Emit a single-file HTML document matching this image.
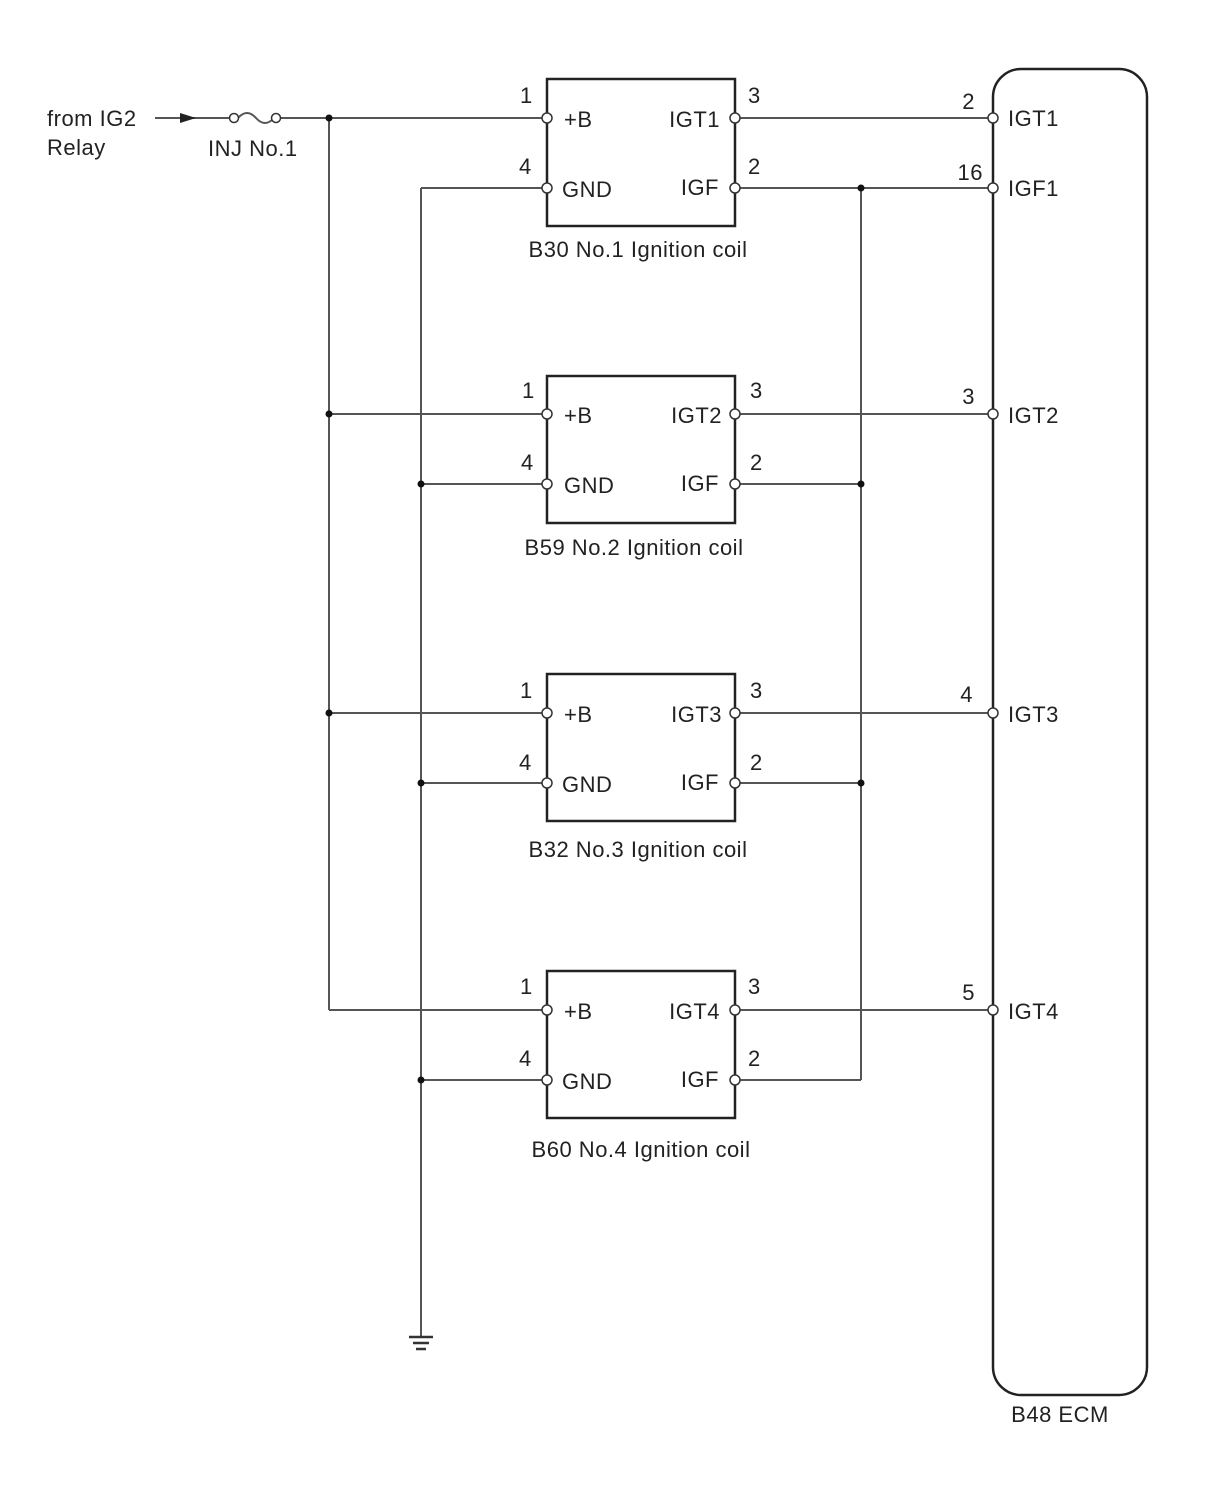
<!DOCTYPE html>
<html><head><meta charset="utf-8"><style>
html,body{margin:0;padding:0;background:#fff;}
svg{display:block;}
text{font-family:"Liberation Sans",Arial,sans-serif;font-size:22px;letter-spacing:0.5px;fill:#222;}
</style></head><body>
<svg width="1210" height="1498" viewBox="0 0 1210 1498" xmlns="http://www.w3.org/2000/svg">
<g stroke="#555" stroke-width="2" fill="none">
  <line x1="155" y1="118" x2="230" y2="118"/>
  <path d="M238 118 q9 -10 18 0 q9 10 18 0" />
  <line x1="280" y1="118" x2="543" y2="118"/>
  <line x1="329" y1="118" x2="329" y2="1010"/>
  <line x1="329" y1="414" x2="543" y2="414"/>
  <line x1="329" y1="713" x2="543" y2="713"/>
  <line x1="329" y1="1010" x2="543" y2="1010"/>
  <line x1="421" y1="188" x2="421" y2="1337"/>
  <line x1="421" y1="188" x2="543" y2="188"/>
  <line x1="421" y1="484" x2="543" y2="484"/>
  <line x1="421" y1="783" x2="543" y2="783"/>
  <line x1="421" y1="1080" x2="543" y2="1080"/>
  <line x1="861" y1="188" x2="861" y2="1080"/>
  <line x1="739" y1="188" x2="989" y2="188"/>
  <line x1="739" y1="484" x2="861" y2="484"/>
  <line x1="739" y1="783" x2="861" y2="783"/>
  <line x1="739" y1="1080" x2="861" y2="1080"/>
  <line x1="739" y1="118" x2="989" y2="118"/>
  <line x1="739" y1="414" x2="989" y2="414"/>
  <line x1="739" y1="713" x2="989" y2="713"/>
  <line x1="739" y1="1010" x2="989" y2="1010"/>
</g>
<polygon points="180,113 196,118 180,123" fill="#222"/>
<g stroke="#333" stroke-width="2.5">
  <line x1="409" y1="1337" x2="433" y2="1337"/>
  <line x1="413" y1="1343" x2="429" y2="1343"/>
  <line x1="416" y1="1349" x2="426" y2="1349"/>
</g>
<g fill="#111">
  <circle cx="329" cy="118" r="3.5"/><circle cx="329" cy="414" r="3.5"/><circle cx="329" cy="713" r="3.5"/>
  <circle cx="421" cy="484" r="3.5"/><circle cx="421" cy="783" r="3.5"/><circle cx="421" cy="1080" r="3.5"/>
  <circle cx="861" cy="188" r="3.5"/><circle cx="861" cy="484" r="3.5"/><circle cx="861" cy="783" r="3.5"/>
</g>
<g stroke="#222" stroke-width="2.5" fill="none">
  <rect x="547" y="79" width="188" height="147"/>
  <rect x="547" y="376" width="188" height="147"/>
  <rect x="547" y="674" width="188" height="147"/>
  <rect x="547" y="971" width="188" height="147"/>
  <rect x="993" y="69" width="154" height="1326" rx="28"/>
</g>
<g fill="#fff" stroke="#333" stroke-width="1.5">
  <circle cx="234" cy="118" r="4.5"/><circle cx="276" cy="118" r="4.5"/>
  <circle cx="547" cy="118" r="5"/><circle cx="547" cy="188" r="5"/><circle cx="735" cy="118" r="5"/><circle cx="735" cy="188" r="5"/>
  <circle cx="547" cy="414" r="5"/><circle cx="547" cy="484" r="5"/><circle cx="735" cy="414" r="5"/><circle cx="735" cy="484" r="5"/>
  <circle cx="547" cy="713" r="5"/><circle cx="547" cy="783" r="5"/><circle cx="735" cy="713" r="5"/><circle cx="735" cy="783" r="5"/>
  <circle cx="547" cy="1010" r="5"/><circle cx="547" cy="1080" r="5"/><circle cx="735" cy="1010" r="5"/><circle cx="735" cy="1080" r="5"/>
  <circle cx="993" cy="118" r="5"/><circle cx="993" cy="188" r="5"/><circle cx="993" cy="414" r="5"/><circle cx="993" cy="713" r="5"/><circle cx="993" cy="1010" r="5"/>
</g>
<text x="47" y="126">from IG2</text>
<text x="47" y="155">Relay</text>
<text x="208" y="156">INJ No.1</text>
<g>
<text x="520" y="103">1</text><text x="519" y="174">4</text><text x="748" y="103">3</text><text x="748" y="174">2</text>
<text x="564" y="127">+B</text><text x="562" y="197">GND</text>
<text x="720" y="127" text-anchor="end">IGT1</text><text x="719" y="195" text-anchor="end">IGF</text>
<text x="638" y="257" text-anchor="middle">B30 No.1 Ignition coil</text>
</g>
<g>
<text x="522" y="398">1</text><text x="521" y="470">4</text><text x="750" y="398">3</text><text x="750" y="470">2</text>
<text x="564" y="423">+B</text><text x="564" y="493">GND</text>
<text x="722" y="423" text-anchor="end">IGT2</text><text x="719" y="491" text-anchor="end">IGF</text>
<text x="634" y="555" text-anchor="middle">B59 No.2 Ignition coil</text>
</g>
<g>
<text x="520" y="698">1</text><text x="519" y="770">4</text><text x="750" y="698">3</text><text x="750" y="770">2</text>
<text x="564" y="722">+B</text><text x="562" y="792">GND</text>
<text x="722" y="722" text-anchor="end">IGT3</text><text x="719" y="790" text-anchor="end">IGF</text>
<text x="638" y="857" text-anchor="middle">B32 No.3 Ignition coil</text>
</g>
<g>
<text x="520" y="994">1</text><text x="519" y="1066">4</text><text x="748" y="994">3</text><text x="748" y="1066">2</text>
<text x="564" y="1019">+B</text><text x="562" y="1089">GND</text>
<text x="720" y="1019" text-anchor="end">IGT4</text><text x="719" y="1087" text-anchor="end">IGF</text>
<text x="641" y="1157" text-anchor="middle">B60 No.4 Ignition coil</text>
</g>
<text x="975" y="109" text-anchor="end">2</text><text x="1008" y="126">IGT1</text>
<text x="983" y="180" text-anchor="end">16</text><text x="1008" y="196">IGF1</text>
<text x="975" y="404" text-anchor="end">3</text><text x="1008" y="423">IGT2</text>
<text x="973" y="702" text-anchor="end">4</text><text x="1008" y="722">IGT3</text>
<text x="975" y="1000" text-anchor="end">5</text><text x="1008" y="1019">IGT4</text>
<text x="1060" y="1422" text-anchor="middle">B48 ECM</text>
</svg>
</body></html>
